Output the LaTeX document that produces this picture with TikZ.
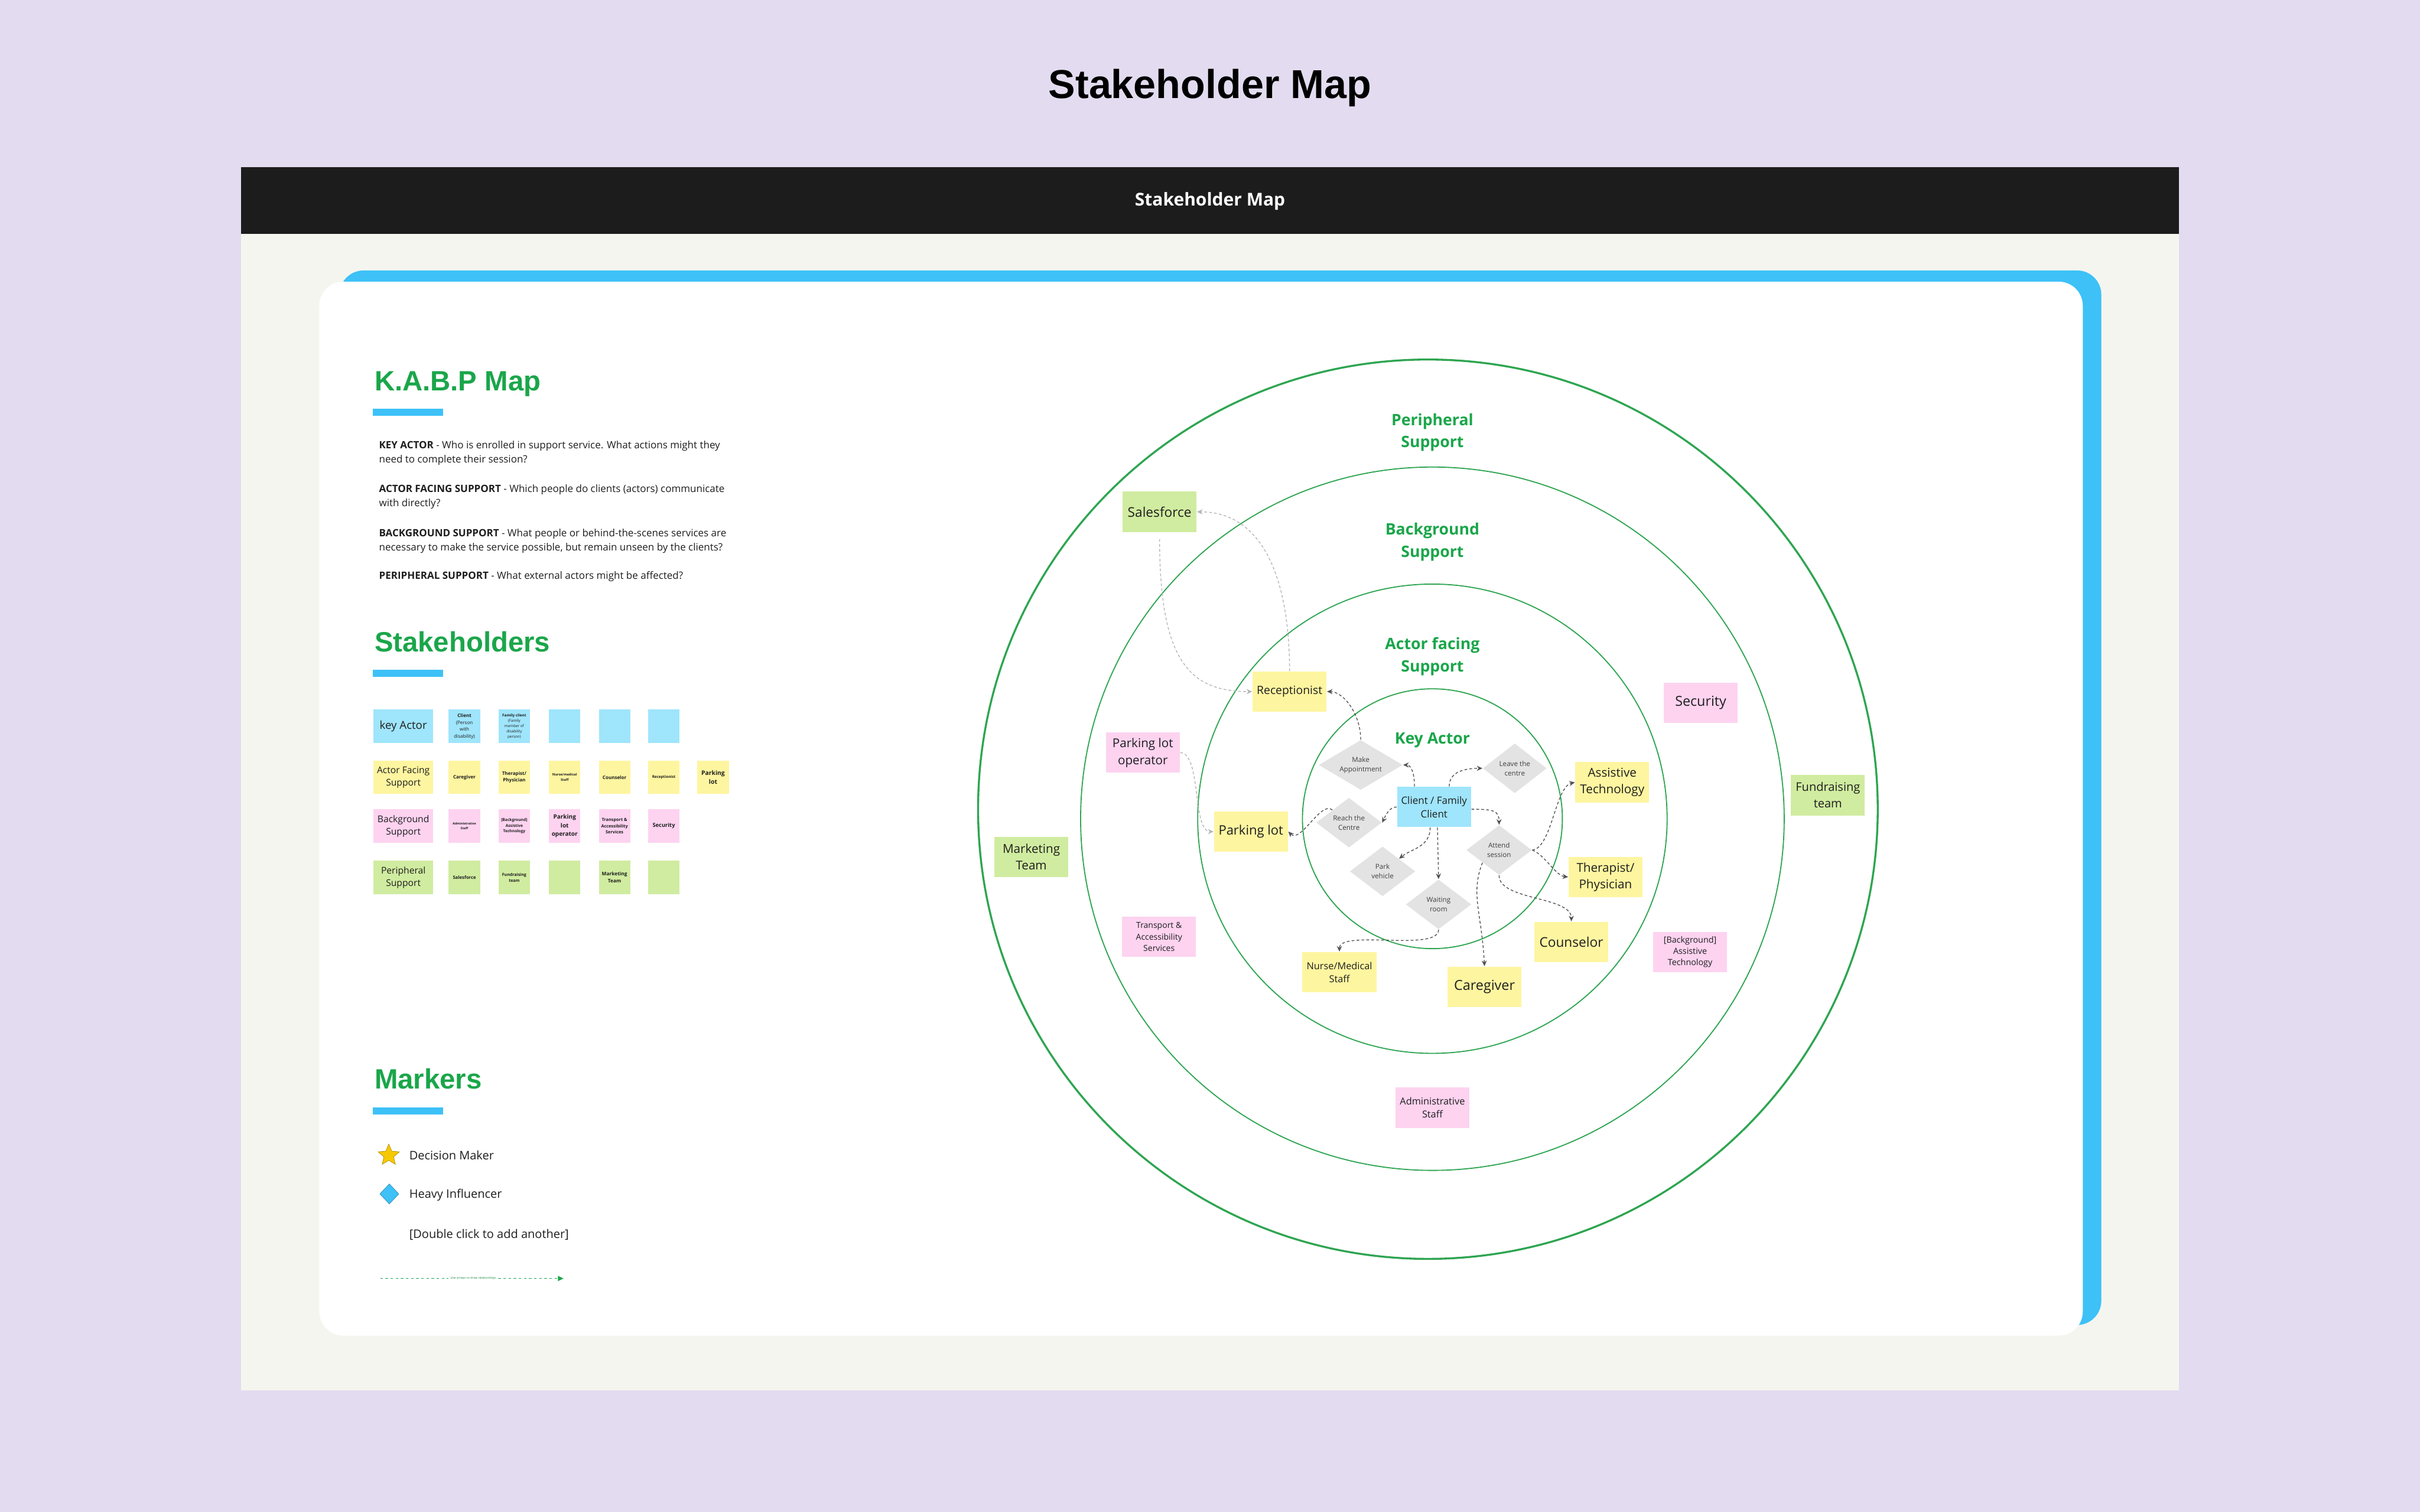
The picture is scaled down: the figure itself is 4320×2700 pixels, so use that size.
\documentclass[tikz,border=0pt]{standalone}
\usepackage{fontspec}
\setmainfont{Open Sans}
\newfontfamily\headfont{Liberation Sans}
\usepackage{xcolor}
\usepackage{tikz}
\usetikzlibrary{shapes.geometric, arrows.meta, positioning}

\definecolor{lavender}{HTML}{E3DCF0}
\definecolor{paper}{HTML}{F5F5EF}
\definecolor{headbar}{HTML}{1C1C1C}
\definecolor{skyblue}{HTML}{3DC1F7}
\definecolor{kabpgreen}{HTML}{1AA64A}
\definecolor{ringgreen}{HTML}{2EA551}
\definecolor{ink}{HTML}{1E1E1E}
\definecolor{noteyellow}{HTML}{FEF5A0}
\definecolor{notepink}{HTML}{FDD3F0}
\definecolor{notegreen}{HTML}{D0ECA0}
\definecolor{noteblue}{HTML}{9FE5FC}
\definecolor{actiongray}{HTML}{E3E3E3}
\definecolor{flowgray}{HTML}{505050}
\definecolor{flowlight}{HTML}{B5B5B5}
\definecolor{staryellow}{HTML}{F6C800}

\newcommand{\fsz}[2]{\fontsize{#1}{#2}\selectfont}

\begin{document}
\begin{tikzpicture}[
    x=0.1mm, y=0.1mm,
    note/.style={
        rectangle, minimum width=13.2mm, minimum height=7.2mm,
        inner sep=0.4mm, align=center, text=ink
    },
    actornote/.style={note, fill=noteyellow},
    bgnote/.style={note, fill=notepink},
    perinote/.style={note, fill=notegreen},
    keynote/.style={note, fill=noteblue},
    action/.style={
        diamond, aspect=1.3, fill=actiongray, inner sep=0pt,
        minimum width=11.7mm, minimum height=8.9mm,
        align=center, text=black!75, font=\fsz{3.5}{4.8}
    },
    chip/.style={
        rectangle, minimum width=5.6mm, minimum height=6mm, inner sep=0pt,
        align=center, text=ink, font=\bfseries\fsz{2.3}{3.3}
    },
    chiplabel/.style={chip, minimum width=10.7mm, font=\fsz{4.7}{6.3}},
    orbit/.style={draw=ringgreen, line width=0.55pt},
    ringlabel/.style={align=center, text=kabpgreen, font=\bfseries\fsz{8}{11.3}},
    heading/.style={
        anchor=base west, inner sep=0pt, text=kabpgreen,
        font=\headfont\bfseries\fsz{14.2}{17}
    },
    kabptext/.style={
        anchor=north west, inner sep=0pt, align=left, text=ink,
        font=\fsz{5.1}{7.1}
    },
    legendtext/.style={anchor=west, inner sep=0pt, text=ink, font=\fsz{6}{8}},
    flow/.style={
        draw=flowgray, line width=0.4pt, dash pattern=on 1.4pt off 1.1pt,
        -{Stealth[length=1mm, width=0.9mm]}
    },
    flowlt/.style={flow, draw=flowlight},
    legendline/.style={draw=kabpgreen, line width=0.45pt, dash pattern=on 1.3pt off 1.3pt}
]

\useasboundingbox (0,0) rectangle (4320,-2700);

% Page and board
\fill[lavender] (0,0) rectangle (4320,-2700);
\fill[paper] (430,-298) rectangle (3890,-2483);
\fill[headbar] (430,-298) rectangle (3890,-418);
\fill[skyblue, rounded corners=4.3mm] (606,-483) rectangle (3751,-2366);
\fill[white, rounded corners=4.3mm] (570,-503) rectangle (3718,-2385);

\node[font=\headfont\bfseries\fsz{20.5}{24}, text=black] (pageTitle) at (2160,-157) {Stakeholder Map};
\node[font=\bfseries\fsz{9}{11}, text=white] (barTitle) at (2160,-359) {Stakeholder Map};

% K.A.B.P Map
\node[heading] (kabpTitle) at (668,-698) {K.A.B.P Map};
\fill[skyblue] (666,-730) rectangle (791,-743);
\node[kabptext] (keyQ) at (676,-787) {\textbf{KEY ACTOR} - Who is enrolled in support service. What actions might they\\need to complete their session?};
\node[kabptext] (facingQ) at (676,-865) {\textbf{ACTOR FACING SUPPORT} - Which people do clients (actors) communicate\\with directly?};
\node[kabptext] (backQ) at (676,-944) {\textbf{BACKGROUND SUPPORT} - What people or behind-the-scenes services are\\necessary to make the service possible, but remain unseen by the clients?};
\node[kabptext] (periQ) at (676,-1020) {\textbf{PERIPHERAL SUPPORT} - What external actors might be affected?};

% Stakeholders
\node[heading] (stakeTitle) at (668,-1164) {Stakeholders};
\fill[skyblue] (666,-1196) rectangle (791,-1209);

\node[chiplabel, fill=noteblue, font=\fsz{5.6}{7}] (kaLabel) at (720,-1297) {key Actor};
\node[chip, fill=noteblue, font=\fsz{2.4}{3.5}] (kaClient) at (829,-1297) {\textbf{Client}\\(Person\\with\\disability)};
\node[chip, fill=noteblue, font=\fsz{1.9}{2.7}] (kaFamily) at (918,-1297) {\textbf{Family client}\\(Family\\member of\\disability\\person)};
\node[chip, fill=noteblue] (kaBlankA) at (1008,-1297) {};
\node[chip, fill=noteblue] (kaBlankB) at (1097,-1297) {};
\node[chip, fill=noteblue] (kaBlankC) at (1185,-1297) {};

\node[chiplabel, fill=noteyellow] (afLabel) at (720,-1388) {Actor Facing\\Support};
\node[chip, fill=noteyellow, font=\bfseries\fsz{2.4}{3.5}] (afCare) at (829,-1388) {Caregiver};
\node[chip, fill=noteyellow, font=\bfseries\fsz{2.4}{3.5}] (afTherapist) at (918,-1388) {Therapist/\\Physician};
\node[chip, fill=noteyellow, font=\bfseries\fsz{1.7}{2.5}] (afNurse) at (1008,-1388) {Nurse/medical\\Staff};
\node[chip, fill=noteyellow, font=\bfseries\fsz{2.4}{3.5}] (afCounselor) at (1097,-1388) {Counselor};
\node[chip, fill=noteyellow, font=\bfseries\fsz{1.9}{2.7}] (afRecep) at (1185,-1388) {Receptionist};
\node[chip, fill=noteyellow, font=\bfseries\fsz{3.1}{4.5}] (afParking) at (1273,-1388) {Parking\\lot};

\node[chiplabel, fill=notepink] (bgLabel) at (720,-1475) {Background\\Support};
\node[chip, fill=notepink, font=\bfseries\fsz{1.6}{2.5}] (bgAdmin) at (829,-1475) {Administrative\\Staff};
\node[chip, fill=notepink, font=\bfseries\fsz{2}{2.9}] (bgAssist) at (918,-1475) {[Background]\\Assistive\\Technology};
\node[chip, fill=notepink, font=\bfseries\fsz{3}{4.4}] (bgOperator) at (1008,-1475) {Parking\\lot\\operator};
\node[chip, fill=notepink, font=\bfseries\fsz{2.2}{3.1}] (bgTransport) at (1097,-1475) {Transport \&\\Accessibility\\Services};
\node[chip, fill=notepink, font=\bfseries\fsz{2.8}{4}] (bgSecurity) at (1185,-1475) {Security};

\node[chiplabel, fill=notegreen] (pLabel) at (720,-1567) {Peripheral\\Support};
\node[chip, fill=notegreen] (pSales) at (829,-1567) {Salesforce};
\node[chip, fill=notegreen, font=\bfseries\fsz{2.1}{3.1}] (pFund) at (918,-1567) {Fundraising\\team};
\node[chip, fill=notegreen] (pBlankA) at (1008,-1567) {};
\node[chip, fill=notegreen, font=\bfseries\fsz{2.5}{3.6}] (pMarketing) at (1097,-1567) {Marketing\\Team};
\node[chip, fill=notegreen] (pBlankB) at (1185,-1567) {};

% Markers
\node[heading] (markTitle) at (668,-1944) {Markers};
\fill[skyblue] (666,-1977) rectangle (791,-1990);

\node[star, star points=5, star point ratio=2.2, fill=staryellow, draw=staryellow!70!black,
      line width=0.2pt, minimum size=4mm, inner sep=0pt] (starMark) at (694,-2063) {};
\node[legendtext] (decision) at (730,-2063) {Decision Maker};
\node[diamond, fill=skyblue, draw=skyblue!70!black, line width=0.2pt,
      minimum width=3.4mm, minimum height=3.6mm, inner sep=0pt] (influMark) at (695,-2132) {};
\node[legendtext] (influencer) at (730,-2134) {Heavy Influencer};
\node[legendtext] (addMore) at (730,-2205) {[Double click to add another]};

\coordinate (legA) at (679,-2283);
\coordinate (legB) at (1006,-2283);
\node[fill=white, inner sep=0.3mm, text=kabpgreen!80!black, font=\fsz{1.5}{2}] (legTxt) at (845,-2283) {Use arrows to show relationships};
\draw[legendline] (legA) -- (legTxt.west);
\draw[legendline, -{Triangle[length=1mm, width=0.9mm]}] (legTxt.east) -- (legB);

% Rings
\draw[orbit, line width=1pt] (2549,-1445) circle[radius=80.3mm];
\draw[orbit] (2557,-1462) circle[radius=62.8mm];
\draw[orbit] (2557,-1462) circle[radius=41.9mm];
\draw[orbit] (2557,-1462) circle[radius=23.2mm];

\node[ringlabel] (periLabel) at (2557,-772) {Peripheral\\Support};
\node[ringlabel] (backLabel) at (2557,-968) {Background\\Support};
\node[ringlabel] (facingLabel) at (2557,-1172) {Actor facing\\Support};
\node[ringlabel] (keyLabel) at (2557,-1322) {Key Actor};

% Peripheral support
\node[perinote, font=\fsz{6.8}{8.8}] (sales) at (2070,-914) {Salesforce};
\node[perinote, font=\fsz{6.2}{8.5}] (marketing) at (1841,-1530) {Marketing\\Team};
\node[perinote, font=\fsz{6}{8.4}] (fundraising) at (3263,-1420) {Fundraising\\team};

% Background support
\node[bgnote, font=\fsz{7}{9}] (security) at (3036,-1255) {Security};
\node[bgnote, font=\fsz{6.2}{8.7}] (plotop) at (2040,-1344) {Parking lot\\operator};
\node[bgnote, font=\fsz{4.2}{5.8}] (transport) at (2069,-1673) {Transport \&\\Accessibility\\Services};
\node[bgnote, font=\fsz{4.3}{5.8}] (bgassist) at (3017,-1700) {[Background]\\Assistive\\Technology};
\node[bgnote, font=\fsz{4.9}{6.6}] (admin) at (2557,-1978) {Administrative\\Staff};

% Actor facing support
\node[actornote, font=\fsz{5.8}{8}] (recep) at (2302,-1235) {Receptionist};
\node[actornote, font=\fsz{6.6}{8.6}] (parking) at (2233,-1485) {Parking lot};
\node[actornote, font=\fsz{6.2}{8.5}] (assist) at (2878,-1397) {Assistive\\Technology};
\node[actornote, font=\fsz{6.2}{8.5}] (therapist) at (2866,-1566) {Therapist/\\Physician};
\node[actornote, font=\fsz{6.8}{8.8}] (counselor) at (2805,-1682) {Counselor};
\node[actornote, font=\fsz{7}{9}] (caregiver) at (2650,-1762) {Caregiver};
\node[actornote, font=\fsz{4.9}{6.6}] (nurse) at (2391,-1736) {Nurse/Medical\\Staff};

% Key actor and actions
\node[keynote, font=\fsz{5.1}{7}] (client) at (2560,-1441) {Client / Family\\Client};
\node[action, minimum width=15mm, aspect=1.7] (appt) at (2429,-1366) {Make\\Appointment};
\node[action, minimum width=11.4mm] (leave) at (2704,-1372) {Leave the\\centre};
\node[action] (reach) at (2408,-1469) {Reach the\\Centre};
\node[action] (attend) at (2676,-1518) {Attend\\session};
\node[action] (park) at (2468,-1556) {Park\\vehicle};
\node[action] (waiting) at (2568,-1615) {Waiting\\room};

% Relationships
\draw[flow] ([xshift=-3.5mm]client.north) .. controls +(0,25) and +(14,0) .. (appt.east);
\draw[flow] ([xshift=2.7mm]client.north) .. controls +(0,28) and +(-28,0) .. (leave.west);
\draw[flow] (client.west) .. controls +(-14,0) and +(6,12) .. (reach.east);
\draw[flow] ([yshift=-0.4mm]client.east) .. controls +(40,0) and +(0,25) .. (attend.north);
\draw[flow] ([xshift=-0.7mm]client.south) .. controls +(0,-35) and +(22,18) .. (park.north east);
\draw[flow] ([xshift=0.6mm]client.south) -- (waiting.north);
\draw[flow] (appt.north) .. controls +(0,45) and +(30,0) .. (recep.east);
\draw[flow] (reach.north west) .. controls +(-20,18) and +(22,-22) .. (parking.east);
\draw[flow] (attend.east) .. controls +(35,4) and +(-35,-8) .. (assist.west);
\draw[flow] (attend.east) .. controls +(22,-8) and +(-22,2) .. (therapist.west);
\draw[flow] (attend.south) .. controls +(0,-45) and +(0,45) .. (counselor.north);
\draw[flow] (attend.south west) .. controls +(-22,-55) and +(-5,95) .. (caregiver.north);
\draw[flow] (waiting.south) .. controls +(0,-40) and +(0,40) .. (nurse.north);
\draw[flowlt] ([yshift=-1.2mm]sales.south) .. controls +(0,-220) and +(-110,0) .. (recep.west);
\draw[flowlt] (recep.north) .. controls +(0,160) and +(120,0) .. (sales.east);
\draw[flowlt] (plotop.east) .. controls +(38,0) and +(-38,0) .. (parking.west);

\end{tikzpicture}
\end{document}
